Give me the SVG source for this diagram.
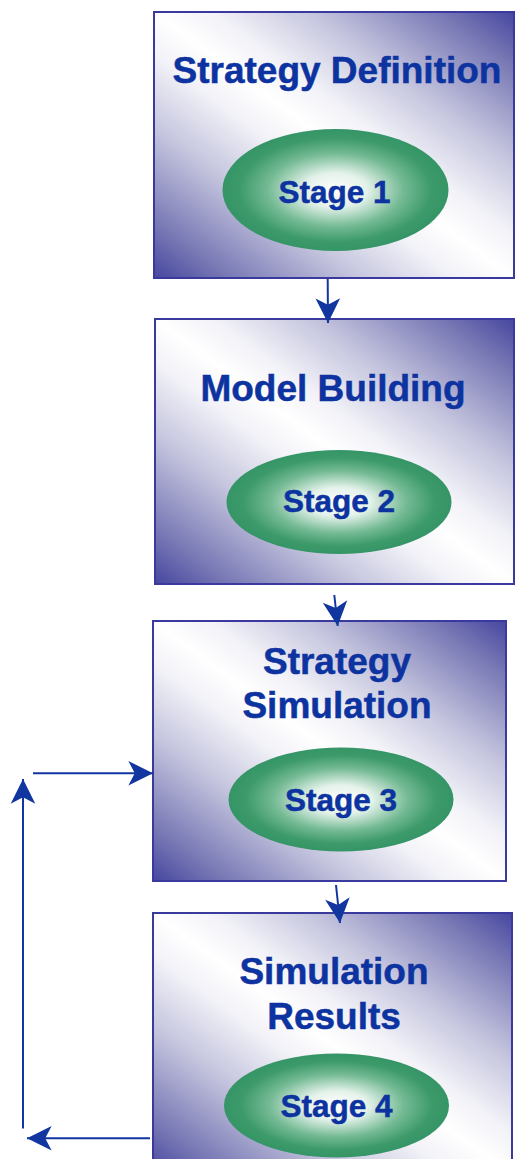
<svg xmlns="http://www.w3.org/2000/svg" width="515" height="1159" viewBox="0 0 515 1159">
  <defs>
    <!-- Box fill: dark corners top-right / bottom-left, wide white diagonal band -->
    <linearGradient id="boxFill" x1="0" y1="1" x2="1" y2="0">
      <stop offset="0" stop-color="#4646a0"/>
      <stop offset="0.1" stop-color="#7676b4"/>
      <stop offset="0.28" stop-color="#c4c4de"/>
      <stop offset="0.42" stop-color="#f2f2f8"/>
      <stop offset="0.5" stop-color="#ffffff"/>
      <stop offset="0.58" stop-color="#f2f2f8"/>
      <stop offset="0.72" stop-color="#c4c4de"/>
      <stop offset="0.9" stop-color="#7676b4"/>
      <stop offset="1" stop-color="#4646a0"/>
    </linearGradient>
    <!-- Stage ellipse: pale centre fading out to green -->
    <radialGradient id="stageFill" cx="0.5" cy="0.5" r="0.5">
      <stop offset="0" stop-color="#ffffff"/>
      <stop offset="0.28" stop-color="#e4f2ea"/>
      <stop offset="0.6" stop-color="#74ba94"/>
      <stop offset="0.85" stop-color="#3d9a6a"/>
      <stop offset="1" stop-color="#359566"/>
    </radialGradient>
    <marker id="head" markerUnits="userSpaceOnUse" orient="auto" markerWidth="30" markerHeight="30" refX="0" refY="0" viewBox="-26 -13 28 26" overflow="visible">
      <path d="M0,0 L-23,-11.5 L-17,0 L-23,11.5 Z" fill="#1236a0"/>
    </marker>
  </defs>
  <style>
    .box { fill: url(#boxFill); stroke: #3a3a9e; stroke-width: 2; }
    .stage { fill: url(#stageFill); }
    .title, .stageText { font-family: "Liberation Sans", Arial, sans-serif; font-weight: bold; fill: #0d33a0; stroke: #0d33a0; stroke-width: 0.5; text-anchor: middle; }
    .title { font-size: 37px; }
    .stageText { font-size: 31.5px; }
    .conn { fill: none; stroke: #1236a0; stroke-width: 2; marker-end: url(#head); }
  </style>

  <g id="node-strategy-definition">
    <rect class="box" x="154" y="12" width="360" height="266"/>
    <text class="title" x="337" y="83">Strategy Definition</text>
    <ellipse class="stage" cx="335.5" cy="190" rx="113" ry="61"/>
    <text class="stageText" x="334.5" y="203">Stage 1</text>
  </g>

  <g id="node-model-building">
    <rect class="box" x="155" y="319" width="359" height="265"/>
    <text class="title" x="333" y="400.5">Model Building</text>
    <ellipse class="stage" cx="339" cy="502" rx="112.5" ry="52"/>
    <text class="stageText" x="339" y="511.5">Stage 2</text>
  </g>

  <g id="node-strategy-simulation">
    <rect class="box" x="153" y="621" width="353" height="260"/>
    <text class="title" x="337" y="674">Strategy</text>
    <text class="title" x="337" y="718">Simulation</text>
    <ellipse class="stage" cx="341" cy="799.5" rx="112.5" ry="52"/>
    <text class="stageText" x="341" y="811">Stage 3</text>
  </g>

  <g id="node-simulation-results">
    <rect class="box" x="153" y="913" width="359" height="262"/>
    <text class="title" x="334" y="984">Simulation</text>
    <text class="title" x="334" y="1029">Results</text>
    <ellipse class="stage" cx="336.5" cy="1105.5" rx="112.5" ry="52"/>
    <text class="stageText" x="336.5" y="1117">Stage 4</text>
  </g>

  <g id="connectors">
    <line class="conn" x1="327.7" y1="279" x2="328" y2="323"/>
    <line class="conn" x1="334.3" y1="595" x2="337.7" y2="626"/>
    <line class="conn" x1="336" y1="885" x2="340" y2="923"/>
    <!-- feedback loop from Stage 4 back to Stage 3 -->
    <line class="conn" x1="150" y1="1138.3" x2="27" y2="1138.3"/>
    <line class="conn" x1="23" y1="1128.5" x2="23" y2="779"/>
    <line class="conn" x1="33" y1="773.3" x2="153" y2="773.3"/>
  </g>
</svg>
